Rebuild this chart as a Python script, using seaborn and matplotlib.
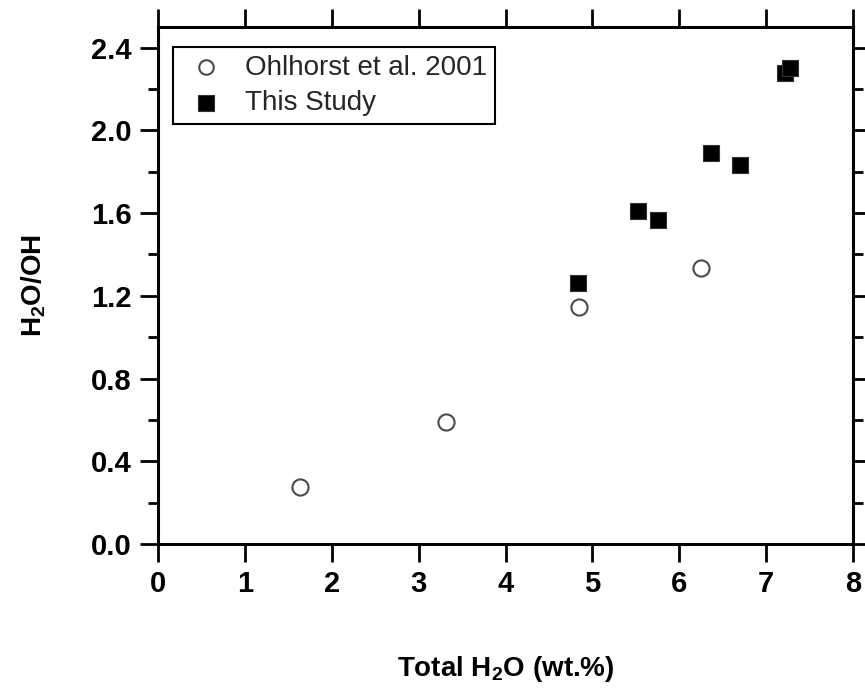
import matplotlib
matplotlib.use("Agg")
import matplotlib.pyplot as plt
from matplotlib.ticker import MultipleLocator
import seaborn as sns
import pandas as pd

# Ohlhorst et al. (2001) reference data
ohl_total_h2o = [1.64, 3.32, 4.85, 6.25]
ohl_ratio = [0.276, 0.59, 1.146, 1.335]

# Measurements from this study
study_total_h2o = [4.83, 5.53, 5.76, 6.37, 6.70, 7.22, 7.27]
study_ratio = [1.262, 1.61, 1.567, 1.891, 1.833, 2.278, 2.302]

x_ticks = [0, 1, 2, 3, 4, 5, 6, 7, 8]
y_ticks = [0.0, 0.4, 0.8, 1.2, 1.6, 2.0, 2.4]

sns.set_theme(style="ticks")
plt.rcParams["font.family"] = ["Liberation Sans", "DejaVu Sans"]
plt.rcParams["mathtext.fontset"] = "custom"
plt.rcParams["mathtext.rm"] = "Liberation Sans"
plt.rcParams["mathtext.bf"] = "Liberation Sans:bold"

ohl = pd.DataFrame({"total": ohl_total_h2o, "ratio": ohl_ratio})
study = pd.DataFrame({"total": study_total_h2o, "ratio": study_ratio})

fig = plt.figure(figsize=(8.65, 6.89), dpi=100)
ax = fig.add_axes([158 / 865, 1 - 544 / 689, 695 / 865, 517 / 689])

sns.scatterplot(data=ohl, x="total", y="ratio", ax=ax, marker="o", s=135,
                facecolor="white", edgecolor="#4a4a4a", linewidth=1.5,
                label="Ohlhorst et al. 2001", zorder=3)
sns.scatterplot(data=study, x="total", y="ratio", ax=ax, marker="s", s=145,
                color="black", edgecolor="#333333", linewidth=0.8,
                label="This Study", zorder=4)

ax.set_xlim(0, 8)
ax.set_ylim(0, 2.5)
ax.set_xticks(x_ticks)
ax.set_yticks(y_ticks)
ax.yaxis.set_minor_locator(MultipleLocator(0.2))
ax.set_xticklabels([str(t) for t in x_ticks])
ax.set_yticklabels([f"{t:.1f}" for t in y_ticks])

for side in ["left", "right", "top", "bottom"]:
    ax.spines[side].set_visible(True)
    ax.spines[side].set_linewidth(2.2)
    ax.spines[side].set_color("black")

ax.tick_params(axis="both", which="major", direction="out", length=13, width=2,
               color="black", top=True, right=True, labelsize=21, pad=6,
               labelcolor="black")
ax.tick_params(axis="y", which="minor", direction="out", length=7.5, width=2,
               color="black", right=True, left=True)
for lbl in ax.get_xticklabels() + ax.get_yticklabels():
    lbl.set_fontweight("bold")

ax.set_xlabel(r"Total H$_\mathbf{2}$O (wt.%)", fontsize=20, fontweight="bold",
              labelpad=40, color="black")
ax.set_ylabel(r"H$_\mathbf{2}$O/OH", fontsize=20, fontweight="bold",
              labelpad=31, color="black")

leg = ax.legend(loc="upper left", bbox_to_anchor=(15 / 695, 1 - 20 / 517),
                frameon=True, fancybox=False, edgecolor="black", framealpha=1,
                prop={"family": "Liberation Sans", "size": 20},
                handletextpad=0.5, borderpad=0.28, labelspacing=0.33,
                handlelength=1.8, borderaxespad=0, markerscale=0.9)
leg.get_frame().set_linewidth(1.5)

fig.savefig("out.png", dpi=100, facecolor="white")
